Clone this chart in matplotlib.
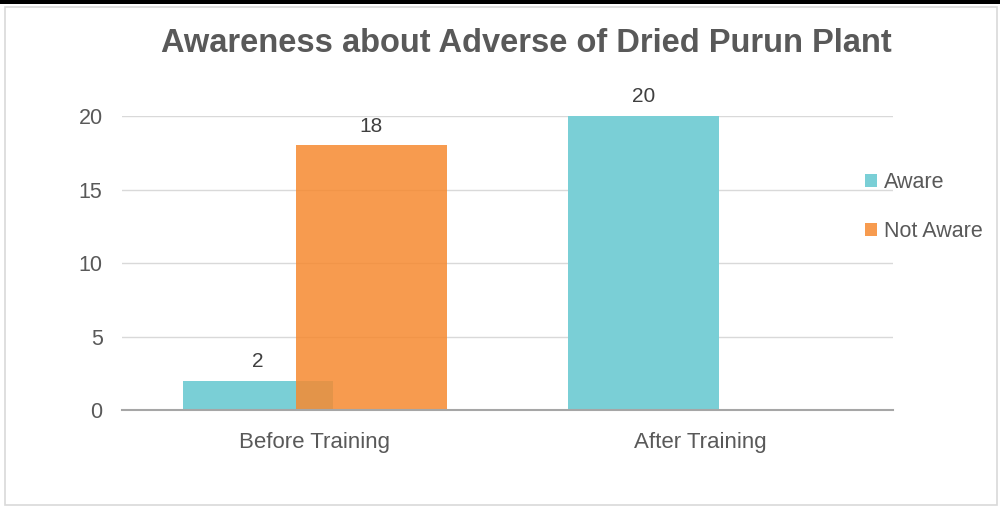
import matplotlib.pyplot as plt
from matplotlib.patches import Rectangle
import numpy as np

# data
categories = ["Before Training", "After Training"]
aware = [2, 20]
not_aware = [18, 0]
yticks = [0, 5, 10, 15, 20]

plt.rcParams['font.family'] = ['Liberation Sans', 'DejaVu Sans']

fig = plt.figure(figsize=(10, 5.09), dpi=100)
ax = fig.add_axes([0.122, 0.1945, 0.771, 0.5775])

x = np.arange(len(categories))
w = 0.39
off = 0.147

b1 = ax.bar(x - off, aware, w, color="#7ACFD6", label="Aware", zorder=2)
b2 = ax.bar(x + off, not_aware, w, color="#F68A30", alpha=0.85, label="Not Aware", zorder=3)

for bars, vals in [(b1, aware), (b2, not_aware)]:
    for r, v in zip(bars, vals):
        if v == 0:
            continue
        ax.annotate(str(v), (r.get_x() + r.get_width() / 2, v), xytext=(0, 7),
                    textcoords="offset points", ha="center", va="bottom",
                    fontsize=15, color="#404040", annotation_clip=False)

ax.set_xlim(-0.5, 1.5)
ax.set_ylim(0, 20)
ax.set_yticks(yticks)
ax.set_xticks(x)
ax.set_xticklabels(categories, fontsize=16)
ax.tick_params(axis="both", length=0, colors="#595959")
ax.tick_params(axis="y", pad=14, labelsize=15.5)
ax.tick_params(axis="x", pad=16)
ax.yaxis.grid(True, color="#D9D9D9", linewidth=1, zorder=0)
ax.set_axisbelow(True)
for s in ["top", "right", "left"]:
    ax.spines[s].set_visible(False)
ax.spines["bottom"].set_color("#A6A6A6")
ax.spines["bottom"].set_linewidth(1.5)
ax.spines["bottom"].set_zorder(4)

leg = ax.legend(loc="center left", bbox_to_anchor=(0.938, 0.69), frameon=False,
                fontsize=15.5, handlelength=0.6, handleheight=0.6, handletextpad=0.3,
                labelspacing=1.3, labelcolor="#595959")

fig.text(0.526, 0.915, "Awareness about Adverse of Dried Purun Plant", ha="center",
         va="center", fontsize=23.5, fontweight="bold", color="#595959")

# frame
fig.patches.append(Rectangle((0.005, 0.008), 0.992, 0.978, transform=fig.transFigure,
                             fill=False, edgecolor="#D9D9D9", linewidth=1.2))
fig.patches.append(Rectangle((0, 0.992), 1, 0.008, transform=fig.transFigure,
                             facecolor="black", edgecolor="none"))

plt.savefig("out.png", dpi=100)
